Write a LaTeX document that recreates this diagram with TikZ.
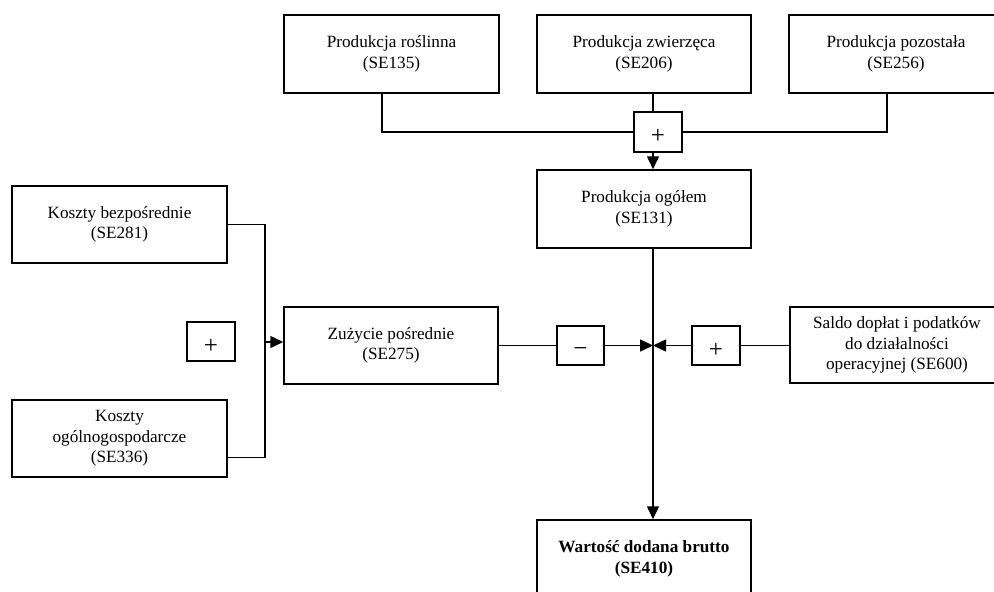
\documentclass[tikz,border=0pt]{standalone}
\usepackage{fontspec}
\setmainfont{Liberation Serif}
\usetikzlibrary{arrows.meta}
\begin{document}
\begin{tikzpicture}[x=1pt,y=-1pt,
  box/.style={draw, line width=1.5pt, inner sep=0pt, align=center,
    minimum width=214pt, minimum height=78pt,
    font=\fontsize{17.2}{20.5}\selectfont},
  opbox/.style={draw, line width=1.5pt, inner sep=0pt,
    minimum width=48pt, minimum height=39pt,
    font=\fontsize{25}{25}\selectfont},
  conn/.style={line width=1.5pt},
  arr/.style={conn, -{Triangle[length=13pt,width=12pt]}}]
\useasboundingbox (0,0) rectangle (994,592);
\clip (0,0) rectangle (994,592);
\fill[white] (0,0) rectangle (994,592);

% top row
\node[box, minimum width=215pt] (r135) at (391.5,54) {Produkcja roślinna\\(SE135)};
\node[box] (z206) at (644,54) {Produkcja zwierzęca\\(SE206)};
\node[box] (p256) at (896,54) {Produkcja pozostała\\(SE256)};
\node[opbox, minimum height=40pt] (plusTop) at (658,132) {\raisebox{-11.9pt}[0pt][0pt]{+}};
\node[box] (ogol) at (644,209) {Produkcja ogółem\\(SE131)};

% left column
\node[box, minimum width=215pt, minimum height=77pt] (k281) at (119.5,224.5) {Koszty bezpośrednie\\(SE281)};
\node[box, minimum width=215pt, minimum height=77pt] (k336) at (119.5,438.5) {Koszty\\ogólnogospodarcze\\(SE336)};
\node[opbox] (plusL) at (211,341.5) {\raisebox{-11.9pt}[0pt][0pt]{+}};
\node[box, minimum height=77pt] (z275) at (391,345.5) {Zużycie pośrednie\\(SE275)};

% middle row
\node[opbox, minimum width=47pt] (minus) at (580.5,345.5) {\raisebox{-11pt}[0pt][0pt]{−}};
\node[opbox] (plusR) at (716,345.5) {\raisebox{-11.9pt}[0pt][0pt]{+}};
\node[box, minimum height=76pt] (s600) at (897,345) {Saldo dopłat i podatków\\do działalności\\operacyjnej (SE600)};

% result
\node[box, font=\fontsize{17.2}{20.5}\selectfont\bfseries] (w410) at (644,559) {Wartość dodana brutto\\(SE410)};

% helper coordinates
\coordinate (spine) at (653,0);
\coordinate (jl) at (265,0);
\coordinate (k336in) at ([yshift=-19pt]k336.east);
\coordinate (z275in) at ([yshift=3.5pt]z275.west);

% connectors top
\draw[conn] ([xshift=-9.5pt]r135.south) |- (plusTop.west);
\draw[conn] (spine |- z206.south) -- (spine |- plusTop.north);
\draw[conn] ([xshift=-9pt]p256.south) |- (plusTop.east);
\draw[arr] (spine |- plusTop.south) -- (spine |- ogol.north);
\draw[arr] (spine |- ogol.south) -- (spine |- w410.north);

% connectors left
\draw[conn] (k281.east) -- (jl |- k281.east) -- (jl |- k336in) -- (k336in);
\draw[arr] (jl |- z275in) -- (z275in);

% connectors middle
\draw[conn] (z275.east) -- (minus.west);
\draw[arr] (minus.east) -- (spine |- minus.east);
\draw[conn] (s600.west |- plusR.east) -- (plusR.east);
\draw[arr] (plusR.west) -- (spine |- plusR.west);
\end{tikzpicture}
\end{document}
